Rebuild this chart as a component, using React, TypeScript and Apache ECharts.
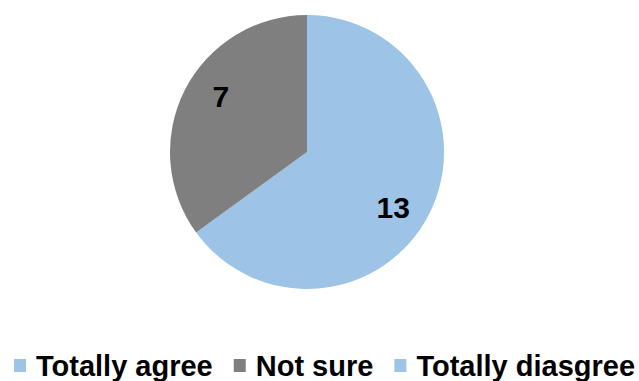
import React, { useEffect, useRef } from "react";
import * as echarts from "echarts";

const categories = ["Totally agree", "Not sure", "Totally diasgree"];
const values = [13, 7, 0];
const colors = ["#9DC3E6", "#7F7F7F", "#9DC3E6"];

const CX = 307;
const CY = 152;
const R = 137;

export default function App() {
  const ref = useRef<HTMLDivElement>(null);
  useEffect(() => {
    if (!ref.current) return;
    const chart = echarts.init(ref.current, null, { renderer: "svg" });
    chart.setOption({
      animation: false,
      backgroundColor: "#ffffff",
      legend: {
        data: categories,
        top: 351,
        left: 14,
        width: 625,
        padding: 0,
        icon: "rect",
        itemWidth: 12,
        itemHeight: 13,
        itemGap: 21,
        textStyle: {
          fontFamily: "Liberation Sans, Arial, sans-serif",
          fontWeight: "bold",
          fontSize: 29,
          color: "#000000",
          padding: [0, 0, 0, 5],
        },
      },
      series: [
        {
          type: "pie",
          center: [CX, CY],
          radius: [0, R],
          startAngle: 90,
          clockwise: true,
          avoidLabelOverlap: false,
          itemStyle: { borderWidth: 0 },
          label: {
            show: true,
            position: "inside",
            formatter: (p: any) => (p.value ? String(p.value) : ""),
            fontFamily: "Liberation Sans, Arial, sans-serif",
            fontWeight: "bold",
            fontSize: 30,
            color: "#000000",
          },
          labelLine: { show: false },
          labelLayout: (params: any) => {
            const r = params.labelRect;
            if (!r) return {};
            const lx = r.x + r.width / 2;
            const ly = r.y + r.height / 2;
            const a = Math.atan2(ly - CY, lx - CX) + (6 * Math.PI) / 180;
            const d = R * 0.75;
            return { dx: CX + d * Math.cos(a) - lx, dy: CY + d * Math.sin(a) - ly };
          },
          data: categories.map((name, i) => ({
            name,
            value: values[i],
            itemStyle: { color: colors[i] },
          })),
        },
      ],
    });
    return () => chart.dispose();
  }, []);
  return <div ref={ref} style={{ width: 639, height: 381, position: "absolute", left: 0, top: 0 }} />;
}
